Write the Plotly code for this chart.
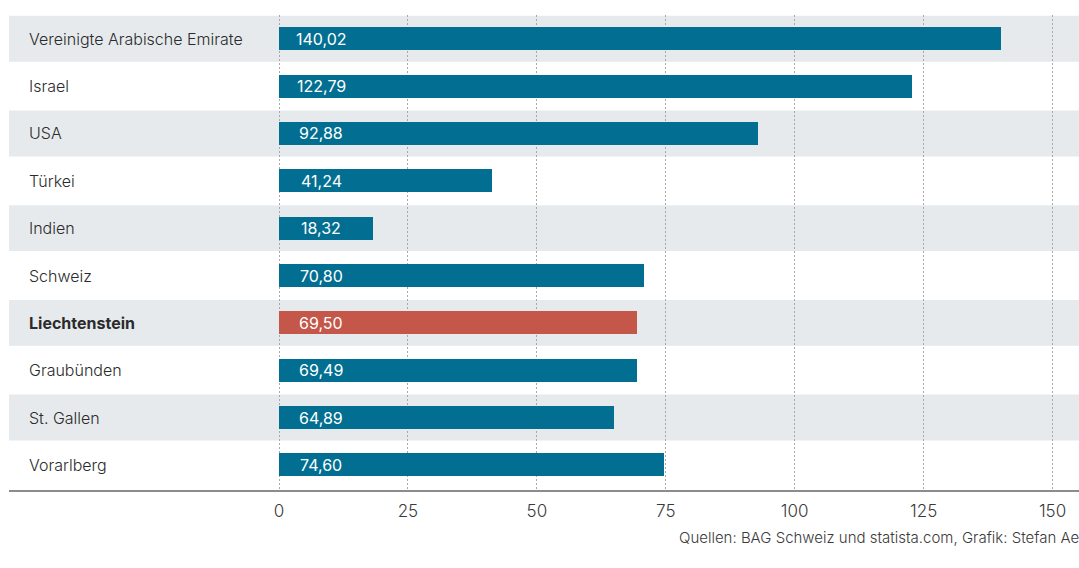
import plotly.graph_objects as go

categories = ["Vereinigte Arabische Emirate", "Israel", "USA", "Türkei", "Indien",
              "Schweiz", "Liechtenstein", "Graubünden", "St. Gallen", "Vorarlberg"]
values = [140.02, 122.79, 92.88, 41.24, 18.32, 70.80, 69.50, 69.49, 64.89, 74.60]
highlight = "Liechtenstein"
tick_values = [0, 25, 50, 75, 100, 125, 150]
source_text = "Quellen: BAG Schweiz und statista.com, Grafik: Stefan Aebli"

W, H = 1079, 568
BLUE = "#026F92"
RED = "#C4574A"
BAND = "#E6EAED"
FONT = "Inter, Roboto, Arial, sans-serif"

colors = [RED if c == highlight else BLUE for c in categories]
idx = list(range(len(categories)))

fig = go.Figure()
fig.add_trace(go.Bar(
    x=values, y=idx, orientation="h",
    marker=dict(color=colors, line=dict(width=0)),
    width=0.486, hoverinfo="skip",
))

shapes = []
for i in idx:
    if i % 2 == 0:
        shapes.append(dict(type="rect", xref="paper", yref="y",
                           x0=9 / W, x1=1, y0=i - 0.485, y1=i + 0.485,
                           fillcolor=BAND, line=dict(width=0), layer="below"))
shapes.append(dict(type="line", xref="paper", yref="paper",
                   x0=9 / W, x1=1, y0=0, y1=0,
                   line=dict(color="#8C8C8C", width=2.2), layer="above"))

annotations = []
for i, (c, v) in enumerate(zip(categories, values)):
    label = f"<b>{c}</b>" if c == highlight else c
    annotations.append(dict(xref="paper", yref="y", x=27 / W, y=i,
                            xanchor="left", yanchor="middle", text=label,
                            showarrow=False,
                            font=dict(family=FONT, size=16, color="#2b2b2b", weight=300)))
    annotations.append(dict(xref="x", yref="y", x=8.15, y=i,
                            xanchor="center", yanchor="middle",
                            text=f"{v:.2f}".replace(".", ","),
                            showarrow=False,
                            font=dict(family=FONT, size=16, color="white", weight=400)))
annotations.append(dict(xref="paper", yref="paper", x=677 / W, y=-46 / 476,
                        xanchor="left", yanchor="middle", text=source_text,
                        showarrow=False,
                        font=dict(family=FONT, size=15, color="#3a3a3a", weight=300)))

x_left = -279 / 5.157
x_right = (W - 279) / 5.157

fig.update_layout(
    width=W, height=H,
    margin=dict(l=0, r=0, t=15, b=77, pad=0),
    paper_bgcolor="white", plot_bgcolor="rgba(0,0,0,0)",
    showlegend=False,
    bargap=0,
    shapes=shapes,
    annotations=annotations,
    xaxis=dict(range=[x_left, x_right], tickvals=tick_values,
               ticktext=[str(t) for t in tick_values],
               showgrid=True, gridcolor="#A8A8A8", gridwidth=1, griddash="2px,2px",
               zeroline=False, showline=False,
               ticks="outside", ticklen=5, tickcolor="rgba(0,0,0,0)",
               tickfont=dict(family=FONT, size=17, color="#3a3a3a", weight=300),
               fixedrange=True),
    yaxis=dict(range=[9.55, -0.5], showticklabels=False, showgrid=False,
               zeroline=False, showline=False, fixedrange=True),
)

fig.write_html("out.html", include_plotlyjs=True, config={"displayModeBar": False})
